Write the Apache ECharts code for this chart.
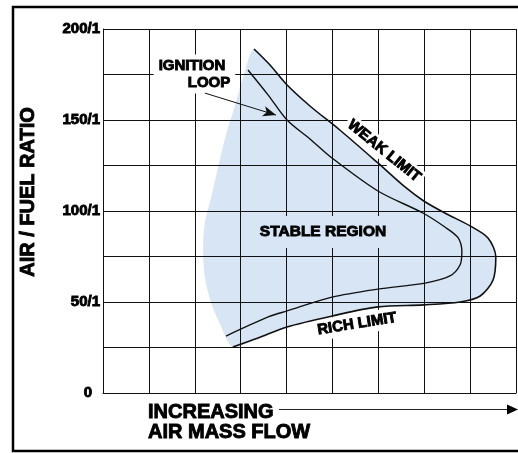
<!DOCTYPE html>
<html><head><meta charset="utf-8">
<script src="https://cdn.jsdelivr.net/npm/echarts@6/dist/echarts.min.js"></script>
<style>html,body{margin:0;padding:0;background:#fff}#c{width:518px;height:453px}</style>
</head><body><div id="c"></div>
<script>
// Axis ticks
const yTickValues = [0, 50, 100, 150, 200];
const yTickLabels = ['0', '50/1', '100/1', '150/1', '200/1'];
// Outer boundary: weak limit -> nose -> rich limit  [airMassFlow, airFuelRatio]
const weakRichCurve = [
  [3.29,189.0],[3.64,180.2],[3.99,169.8],[4.51,157.7],[5.16,144.5],[5.99,126.4],
  [6.58,113.2],[6.99,105.5],[7.45,98.9],[8.00,91.8],[8.39,85.2],[8.56,74.7],
  [8.50,62.1],[8.22,53.3],[7.78,50.0],[6.99,48.4],[5.99,47.3],[4.99,42.3],
  [4.01,36.3],[3.38,30.2],[2.83,25.3]
];
// Ignition loop
const ignitionLoop = [
  [3.16,177.5],[3.60,163.7],[4.01,150.0],[4.51,139.6],[4.99,129.1],[5.99,111.0],
  [6.97,98.9],[7.45,91.2],[7.74,85.2],[7.82,77.5],[7.78,70.3],[7.56,64.3],
  [7.02,60.4],[5.99,57.1],[4.99,52.7],[4.01,45.1],[3.60,41.8],[2.68,31.3]
];
// Left edge of stable (shaded) region, bottom to top
const stableLeftEdge = [
  [2.55,37.9],[2.35,50.0],[2.22,63.7],[2.18,78.6],[2.22,93.4],[2.37,108.8],
  [2.52,125.3],[2.68,141.8],[2.88,158.2],[3.07,174.7]
];
// Pointer from label to ignition loop
const ignitionPointer = [[2.22,164.8],[3.77,152.7]];

const FONT = 'Arial, "Liberation Sans", sans-serif';
const chart = echarts.init(document.getElementById('c'), null, {renderer:'canvas'});
const gridLine = {lineStyle:{color:'#111', width:1}};

function txt(text, x, y, size, opts) {
  opts = opts || {};
  return {
    type:'text', x:x, y:y, rotation:opts.rotation || 0, z:opts.z || 4, silent:true,
    style:{
      text:text, fontFamily:FONT, fontWeight:'bold', fontSize:size, fill:'#000',
      align:opts.align || 'center', verticalAlign:'middle',
      stroke:'#000', lineWidth:0.9,
      backgroundColor:opts.bg, padding:opts.padding
    }
  };
}

chart.setOption({
  animation:false,
  grid:{left:103, top:29, width:413, height:364},
  xAxis:{type:'value', min:0, max:9, interval:1, z:3,
    axisLabel:{show:false}, axisTick:{show:false},
    axisLine:{show:true, lineStyle:{color:'#111', width:1}},
    splitLine:Object.assign({show:true}, gridLine)},
  yAxis:{type:'value', min:0, max:200, interval:25, z:3,
    axisTick:{show:false},
    axisLine:{show:true, lineStyle:{color:'#111', width:1}},
    splitLine:Object.assign({show:true}, gridLine),
    axisLabel:{
      margin:3, color:'#000', fontFamily:FONT, fontWeight:'bold', fontSize:15,
      textBorderColor:'#000', textBorderWidth:0.9,
      formatter:function(v){
        const i = yTickValues.indexOf(v);
        if (i < 0) return '';
        return v === 0 ? '{z|' + yTickLabels[i] + '}' : yTickLabels[i];
      },
      rich:{z:{padding:[0,8,0,0], color:'#000', fontFamily:FONT, fontWeight:'bold', fontSize:15,
        textBorderColor:'#000', textBorderWidth:0.9}}
    }},
  series:[
    {type:'custom', z:1, silent:true, data:[[0,0]],
      renderItem:function(params, api){
        const pts = weakRichCurve.concat(stableLeftEdge).map(function(p){return api.coord(p);});
        return {type:'polygon', shape:{points:pts, smooth:0.3}, style:{fill:'#d7e5f5', stroke:null}};
      }},
    {type:'line', z:6, silent:true, data:weakRichCurve, smooth:0.3, symbol:'none',
      lineStyle:{color:'#111', width:1.6}},
    {type:'line', z:6, silent:true, data:ignitionLoop, smooth:0.3, symbol:'none',
      lineStyle:{color:'#111', width:1.4},
      markLine:{silent:true, animation:false, symbol:['none','arrow'], symbolSize:[8,13],
        label:{show:false}, lineStyle:{color:'#111', width:1, type:'solid'},
        emphasis:{disabled:true},
        data:[[{coord:ignitionPointer[0]},{coord:ignitionPointer[1]}]]}}
  ],
  graphic:[
    {type:'rect', silent:true, z:10, shape:{x:13, y:7, width:520, height:444},
      style:{fill:'none', stroke:'#000', lineWidth:2.5}},
    txt('AIR / FUEL RATIO', 28, 192, 20, {rotation:Math.PI/2}),
    txt('INCREASING', 148, 412, 20, {align:'left'}),
    txt('AIR MASS FLOW', 148, 432, 20, {align:'left'}),
    {type:'line', silent:true, z:4, shape:{x1:279, y1:409.5, x2:510, y2:409.5},
      style:{stroke:'#222', lineWidth:1}},
    {type:'polygon', silent:true, z:4, shape:{points:[[507,404.5],[518,409.5],[507,414.5]]},
      style:{fill:'#000'}},
    txt('IGNITION', 192, 66, 15, {bg:'#fff', padding:[4,5]}),
    txt('LOOP', 209, 83, 15, {bg:'#fff', padding:[3,5]}),
    txt('WEAK LIMIT', 384, 151, 15, {rotation:-0.68, bg:'#fff', padding:[2,3]}),
    txt('STABLE REGION', 323, 232, 15.5, {bg:'#d7e5f5', padding:[8,6]}),
    txt('RICH LIMIT', 357, 324, 15, {rotation:0.16, bg:'#fff', padding:[3,3]})
  ]
});
</script></body></html>
